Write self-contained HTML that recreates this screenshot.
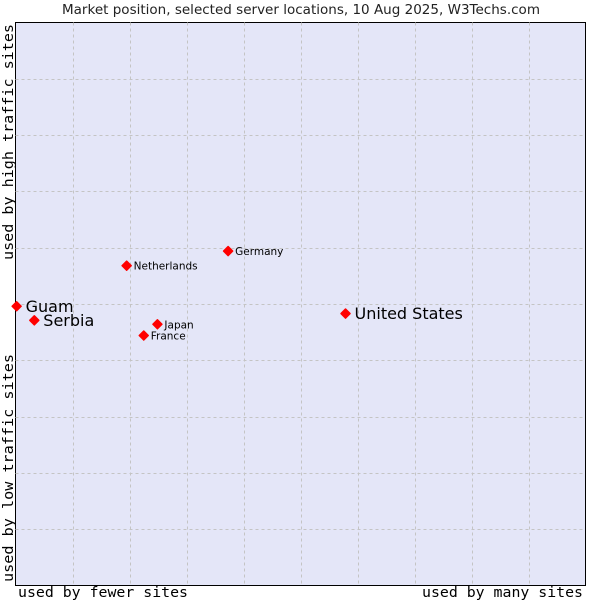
<!DOCTYPE html>
<html><head><meta charset="utf-8"><style>
body{margin:0;background:#fff}
svg text{font-family:"DejaVu Sans","Liberation Sans",sans-serif}
.mono{font-family:"DejaVu Sans Mono","Liberation Mono",monospace}
</style></head><body>
<svg id="chart" width="600" height="600" xmlns="http://www.w3.org/2000/svg">
<text x="62" y="14" textLength="478" lengthAdjust="spacingAndGlyphs" font-size="13" fill="#222">Market position, selected server locations, 10 Aug 2025, W3Techs.com</text>
<rect x="15.5" y="22.5" width="570" height="563" fill="#e4e6f8" stroke="#000" stroke-width="1"/>
<g id="grid"></g>
<g id="points"></g>
<text class="mono" x="18" y="597" font-size="14" textLength="170" lengthAdjust="spacingAndGlyphs" fill="#000">used by fewer sites</text>
<text class="mono" x="422" y="597" font-size="14" textLength="161" lengthAdjust="spacingAndGlyphs" fill="#000">used by many sites</text>
<text class="mono" transform="translate(13,260) rotate(-90)" font-size="14" textLength="236" lengthAdjust="spacingAndGlyphs" fill="#000">used by high traffic sites</text>
<text class="mono" transform="translate(13,582) rotate(-90)" font-size="14" textLength="228" lengthAdjust="spacingAndGlyphs" fill="#000">used by low traffic sites</text>
</svg>
<script>
const names=["Guam","Serbia","Netherlands","Germany","Japan","France","United States"];
const xVals=[0.2,3.3,19.5,37.3,24.9,22.5,57.9];
const yVals=[49.6,47.1,56.8,59.4,46.4,44.4,48.3];
const big=[true,true,false,false,false,false,true];
const L=15.5,R=585.5,T=22.5,B=585.5;
const sx=v=>L+(R-L)*v/100, sy=v=>B-(B-T)*v/100;
const NS="http://www.w3.org/2000/svg";
const g=document.getElementById('grid');
for(let i=1;i<10;i++){
  const x=Math.round(sx(i*10))+0.5,y=Math.round(sy(i*10))+0.5;
  const a=document.createElementNS(NS,'line');
  
  
  a.setAttribute('x1',x);a.setAttribute('x2',x);a.setAttribute('y1',T);a.setAttribute('y2',B);
  a.setAttribute('stroke','#c4c4c4');a.setAttribute('stroke-dasharray','3,3');g.appendChild(a);
  const b=document.createElementNS(NS,'line');
  
  
  b.setAttribute('x1',L);b.setAttribute('x2',R);b.setAttribute('y1',y);b.setAttribute('y2',y);
  b.setAttribute('stroke','#c4c4c4');b.setAttribute('stroke-dasharray','3,3');g.appendChild(b);
}
const p=document.getElementById('points');
names.forEach((n,i)=>{
  const x=sx(xVals[i]),y=sy(yVals[i]);
  const d=document.createElementNS(NS,'polygon');
  
  
  d.setAttribute('points',`${x},${y-4.5} ${x+4.5},${y} ${x},${y+4.5} ${x-4.5},${y}`);
  d.setAttribute('fill','#f00');d.setAttribute('stroke','#f00');d.setAttribute('stroke-linejoin','round');d.setAttribute('stroke-width','1.5');
  p.appendChild(d);
  const t=document.createElementNS(NS,'text');
  
  
  t.setAttribute('x',x+(big[i]?9:7));t.setAttribute('y',y+(big[i]?5.5:4));
  t.setAttribute('font-size',big[i]?16:10.5);t.setAttribute('fill','#000');
  t.textContent=n;p.appendChild(t);
});
</script>
</body></html>
